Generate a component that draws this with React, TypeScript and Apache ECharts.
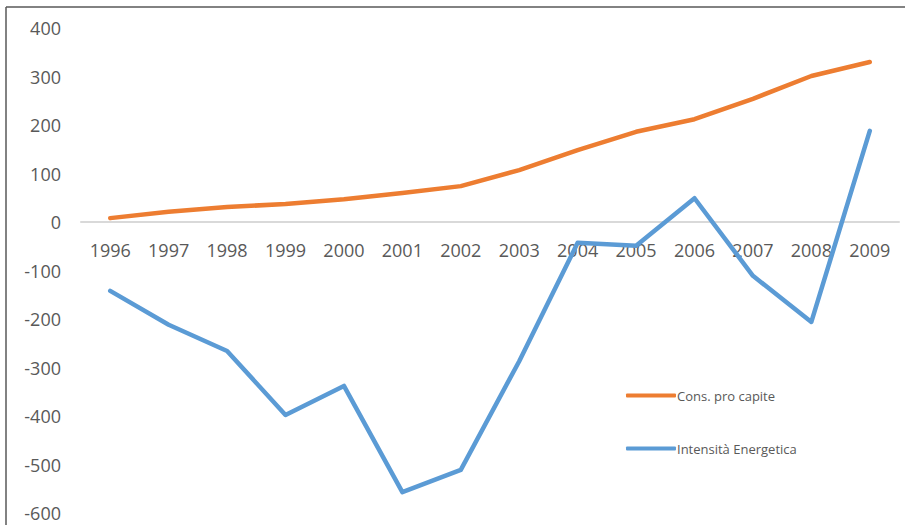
import React, { useEffect, useRef } from "react";
import * as echarts from "echarts";

const years = ["1996","1997","1998","1999","2000","2001","2002","2003","2004","2005","2006","2007","2008","2009"];
const consProCapite = [8, 21, 31, 37, 47, 60, 74, 107, 148, 186, 212, 254, 301, 330];
const intensitaEnergetica = [-142, -212, -266, -398, -338, -557, -511, -287, -43, -49, 49, -111, -206, 188];
const seriesNames = ["Cons. pro capite", "Intensità Energetica"];

const Y_MIN = -600;
const Y_MAX = 400;
const GRID_TOP = 28;
const GRID_BOTTOM = 12;
const HEIGHT = 525;

export default function App() {
  const ref = useRef<HTMLDivElement>(null);
  useEffect(() => {
    if (!ref.current) return;
    const chart = echarts.init(ref.current, undefined, { renderer: "svg" });
    const font = "'Open Sans', 'Noto Sans', sans-serif";
    const gridH = HEIGHT - GRID_TOP - GRID_BOTTOM;
    const zeroOffset = (0 - Y_MIN) / (Y_MAX - Y_MIN) * gridH;
    chart.setOption({
      animation: false,
      backgroundColor: "#ffffff",
      grid: { left: 81, right: 6, top: GRID_TOP, bottom: GRID_BOTTOM, containLabel: false, outerBoundsMode: "none" },
      xAxis: {
        type: "category",
        data: years,
        boundaryGap: true,
        position: "bottom",
        offset: -zeroOffset,
        axisLine: { onZero: false, lineStyle: { color: "#d9d9d9", width: 2 } },
        axisTick: { show: false },
        axisLabel: { color: "#595959", fontSize: 18, fontFamily: font, margin: 19, interval: 0 },
        splitLine: { show: false },
      },
      yAxis: {
        type: "value",
        min: Y_MIN,
        max: Y_MAX,
        interval: 100,
        axisLine: { show: false },
        axisTick: { show: false },
        splitLine: { show: false },
        axisLabel: { color: "#595959", fontSize: 18, fontFamily: font, margin: 20 },
      },
      legend: {
        orient: "vertical",
        left: 621,
        top: 384,
        icon: "roundRect",
        itemWidth: 50,
        itemHeight: 4,
        itemGap: 40,
        data: seriesNames,
        textStyle: { color: "#595959", fontSize: 13, fontFamily: font, padding: [0, 0, 0, -4] },
      },
      series: [
        {
          name: seriesNames[0],
          type: "line",
          data: consProCapite,
          symbol: "none",
          lineStyle: { color: "#ED7D31", width: 4.5, cap: "round", join: "round" },
          itemStyle: { color: "#ED7D31" },
        },
        {
          name: seriesNames[1],
          type: "line",
          data: intensitaEnergetica,
          symbol: "none",
          lineStyle: { color: "#5B9BD5", width: 4.5, cap: "round", join: "round" },
          itemStyle: { color: "#5B9BD5" },
        },
      ],
      graphic: [
        { type: "line", shape: { x1: 6, y1: 7, x2: 905, y2: 7 }, style: { stroke: "#595959", lineWidth: 1.5 } },
        { type: "line", shape: { x1: 6, y1: 7, x2: 6, y2: 525 }, style: { stroke: "#595959", lineWidth: 1.5 } },
      ],
    });
    return () => chart.dispose();
  }, []);
  return (
    <div
      ref={ref}
      style={{ position: "fixed", left: 0, top: 0, width: 905, height: HEIGHT }}
    />
  );
}
